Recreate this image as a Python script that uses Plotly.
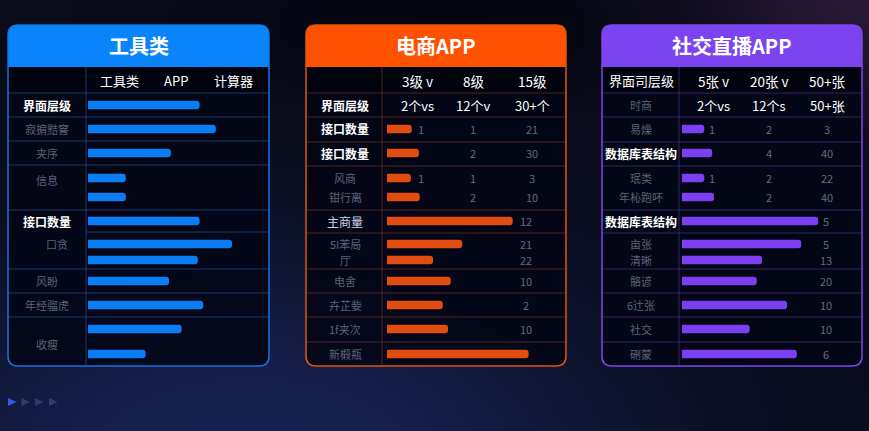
import math, zlib, struct, base64
import plotly.graph_objects as go

W, H = 869, 431

# ---------------- data ----------------
tool_title = "工具类"
tool_columns = ["工具类", "APP", "计算器"]
tool_labels = ["界面层级", "寂掮黠窨", "夹序", "信息", "", "接口数量", "口贪", "", "风盼", "年经骝虎", "收瘦", ""]
tool_values = [62, 71, 46, 21, 21, 62, 80, 61, 45, 64, 52, 32]

ecom_title = "电商APP"
ecom_columns = ["3级 v", "8级", "15级"]
ecom_labels = ["界面层级", "接口数量", "接口数量", "风商", "钳行离", "主商量", "5I苯局", "厅", "电舍", "卉芷姕", "1f夹次", "新椴瓶"]
ecom_values = [None, 14, 18, 13.5, 18.5, 71, 42.5, 26, 36, 31.5, 34.5, 80]
ecom_col1 = ["2个vs", "1", "", "1", "", "", "", "", "", "", "", ""]
ecom_col2 = ["12个v", "1", "2", "1", "2", "", "", "", "", "", "", ""]
ecom_col3 = ["30+个", "21", "30", "3", "10", "12", "21", "22", "10", "2", "10", ""]

social_title = "社交直播APP"
social_corner = "界面司层级"
social_columns = ["5张 v", "20张 v", "50+张"]
social_labels = ["时商", "易燥", "数据库表结构", "珉类", "年杺跑吥", "数据库表结构", "亩张", "清晰", "骼谚", "6辻张", "社交", "硎蒙"]
social_values = [None, 12.5, 17, 12.5, 18, 76.5, 67, 45, 42, 59, 38, 64.5]
social_col1 = ["2个vs", "1", "", "1", "", "", "", "", "", "", "", ""]
social_col2 = ["12个s", "2", "4", "2", "2", "", "", "", "", "", "", ""]
social_col3 = ["50+张", "3", "40", "22", "40", "5", "5", "13", "20", "10", "10", "6"]

# ---------------- layout constants ----------------
FONT = "Noto Sans CJK SC"
SLOT_Y = [105, 129, 153, 178, 197, 221, 244, 260, 281, 305, 329, 354]
PANEL_TOP, HEAD_BOT, COLHEAD_BOT, PANEL_BOT = 25, 67, 93, 366

PANELS = [
    dict(x0=8, x1=269, div=86, bar0=88, bar1=268, label_x=47,
         head="#0a84fb", border="#1a72e0", line="rgba(30,75,140,0.75)", bar="#0a7cf4",
         cols_x=[120, 176, 234]),
    dict(x0=306, x1=566, div=382, bar0=387, bar1=564, label_x=345,
         head="#ff5200", border="#e0560f", line="rgba(95,45,35,0.8)", bar="#e24c10",
         cols_x=[417, 473, 532], num1_x=421, tail_x=526),
    dict(x0=602, x1=862, div=679, bar0=682, bar1=860, label_x=641,
         head="#7c44f0", border="#7f45ee", line="rgba(60,42,115,0.85)", bar="#7d3ff2",
         cols_x=[713, 769, 827], num1_x=712, tail_x=826),
]

WHITE = "#ffffff"
LIGHT = "rgb(205,210,225)"
DIM = "rgb(92,98,122)"
NUM = "rgb(100,105,128)"


def px(x):
    return x / W


def py(y):
    return 1 - y / H


def rr_path(x0, y0, x1, y1, r, top=True, bottom=True):
    rt = r if top else 0
    rb = r if bottom else 0
    pts = []
    pts.append(f"M{px(x0 + rt)},{py(y0)}")
    pts.append(f"L{px(x1 - rt)},{py(y0)}")
    if rt:
        pts.append(f"Q{px(x1)},{py(y0)} {px(x1)},{py(y0 + rt)}")
    pts.append(f"L{px(x1)},{py(y1 - rb)}")
    if rb:
        pts.append(f"Q{px(x1)},{py(y1)} {px(x1 - rb)},{py(y1)}")
    pts.append(f"L{px(x0 + rb)},{py(y1)}")
    if rb:
        pts.append(f"Q{px(x0)},{py(y1)} {px(x0)},{py(y1 - rb)}")
    pts.append(f"L{px(x0)},{py(y0 + rt)}")
    if rt:
        pts.append(f"Q{px(x0)},{py(y0)} {px(x0 + rt)},{py(y0)}")
    pts.append("Z")
    return " ".join(pts)


# ---------------- background image ----------------
def bg_color(x, y):
    r, g, b = 9.0, 11.0, 26.0
    k = math.exp(-(((x - 250) / 380) ** 2 + ((y - 470) / 220) ** 2))
    r += 14 * k; g += 24 * k; b += 58 * k
    k2 = math.exp(-(((x - 869) / 170) ** 2 + ((y + 10) / 120) ** 2))
    r += 32 * k2; g += 14 * k2; b += 30 * k2
    k3 = math.exp(-(((x - 450) / 260) ** 2 + ((y - 30) / 80) ** 2))
    r -= 5 * k3; g -= 6 * k3; b -= 10 * k3
    return tuple(max(0, min(255, int(round(v)))) for v in (r, g, b))


def make_png(w, h):
    raw = bytearray()
    for j in range(h):
        raw.append(0)
        for i in range(w):
            raw += bytes(bg_color((i + 0.5) * W / w, (j + 0.5) * H / h))

    def chunk(t, d):
        c = struct.pack(">I", len(d)) + t + d
        return c + struct.pack(">I", zlib.crc32(t + d) & 0xffffffff)

    png = (b"\x89PNG\r\n\x1a\n"
           + chunk(b"IHDR", struct.pack(">IIBBBBB", w, h, 8, 2, 0, 0, 0))
           + chunk(b"IDAT", zlib.compress(bytes(raw), 9))
           + chunk(b"IEND", b""))
    return "data:image/png;base64," + base64.b64encode(png).decode()


shapes = []
annotations = []


def txt(s, x, y, size, color, bold=False, anchor="center"):
    if not s:
        return
    annotations.append(dict(
        text=f"<b>{s}</b>" if bold else s, x=px(x), y=py(y), xref="paper", yref="paper",
        showarrow=False, xanchor=anchor, yanchor="middle",
        font=dict(family=FONT, size=size, color=color)))


def hline(x0, x1, y, color, width=1):
    shapes.append(dict(type="line", xref="paper", yref="paper", x0=px(x0), x1=px(x1),
                       y0=py(y), y1=py(y), line=dict(color=color, width=width), layer="below"))


def vline(x, y0, y1, color, width=1):
    shapes.append(dict(type="line", xref="paper", yref="paper", x0=px(x), x1=px(x),
                       y0=py(y0), y1=py(y1), line=dict(color=color, width=width), layer="below"))


full_lines = [
    [93, 117, 141, 165, 210, 269, 293, 317],
    [93, 117, 142, 166, 210, 233, 269, 293, 317, 342],
    [93, 117, 142, 166, 210, 233, 269, 293, 317, 342],
]
partial_lines = [[232], [], []]
titles = [tool_title, ecom_title, social_title]

for i, p in enumerate(PANELS):
    x0, x1 = p["x0"], p["x1"]
    # body
    shapes.append(dict(type="path", xref="paper", yref="paper", path=rr_path(x0, PANEL_TOP, x1, PANEL_BOT, 10),
                       fillcolor="rgba(2,5,20,0.82)", line=dict(width=0), layer="below"))
    # column header row darker
    shapes.append(dict(type="rect", xref="paper", yref="paper", x0=px(x0), x1=px(x1),
                       y0=py(HEAD_BOT), y1=py(COLHEAD_BOT), fillcolor="rgba(0,2,10,0.6)",
                       line=dict(width=0), layer="below"))
    # header
    shapes.append(dict(type="path", xref="paper", yref="paper",
                       path=rr_path(x0, PANEL_TOP, x1, HEAD_BOT, 10, top=True, bottom=False),
                       fillcolor=p["head"], line=dict(width=0), layer="below"))
    for y in full_lines[i]:
        hline(x0, x1, y, p["line"])
    for y in partial_lines[i]:
        hline(p["div"], x1, y, p["line"])
    vline(p["div"], HEAD_BOT, PANEL_BOT, p["line"])
    # border
    shapes.append(dict(type="path", xref="paper", yref="paper", path=rr_path(x0, PANEL_TOP, x1, PANEL_BOT, 10),
                       fillcolor="rgba(0,0,0,0)", line=dict(color=p["border"], width=1.5), layer="below"))
    txt(titles[i], (x0 + x1) / 2, 46, 20, WHITE, bold=True)

# ---- panel 1 texts ----
p = PANELS[0]
for s, x in zip(tool_columns, p["cols_x"]):
    txt(s, x, 81, 13, WHITE)
tool_strong = {0, 5}
tool_label_y = {10: 344, 3: 180}
tool_label_anchor = {6: ("right", 70)}
for k, s in enumerate(tool_labels):
    y = tool_label_y.get(k, SLOT_Y[k])
    anchor, x = tool_label_anchor.get(k, ("center", p["label_x"]))
    if k in tool_strong:
        txt(s, x, y, 12, WHITE, bold=True, anchor=anchor)
    else:
        txt(s, x, y, 11, DIM, anchor=anchor)

# ---- panels 2 & 3 texts ----
specs = [
    (PANELS[1], "", ecom_columns, ecom_labels, ecom_col1, ecom_col2, ecom_col3, {0: "strong", 1: "strong", 2: "strong", 5: "light"}),
    (PANELS[2], social_corner, social_columns, social_labels, social_col1, social_col2, social_col3, {2: "strong", 5: "strong"}),
]
for p, corner, cols, labels, c1, c2, c3, styles in specs:
    txt(corner, p["label_x"], 81, 13, WHITE)
    for s, x in zip(cols, p["cols_x"]):
        txt(s, x, 81, 13.5, WHITE)
    for k, s in enumerate(labels):
        y = SLOT_Y[k]
        st = styles.get(k, "dim")
        if st == "strong":
            txt(s, p["label_x"], y, 12, WHITE, bold=True)
        elif st == "light":
            txt(s, p["label_x"], y, 12, LIGHT)
        else:
            txt(s, p["label_x"], y, 11, DIM)
        if k == 0:
            for s2, x in zip((c1[k], c2[k]), p["cols_x"][:2]):
                txt(s2, x, y, 13, WHITE)
            txt(c3[k], p["cols_x"][2], y, 13, WHITE)
        else:
            txt(c1[k], p["num1_x"], y, 11, NUM)
            txt(c2[k], p["cols_x"][1], y, 11, NUM)
            tail = p["cols_x"][2] if (c1[k] or c2[k]) else p["tail_x"]
            txt(c3[k], tail, y, 11, NUM)

# ---- bottom-left arrows ----
for j, cx in enumerate([12, 25.5, 39, 53]):
    col = "rgb(48,88,238)" if j == 0 else "rgb(46,60,112)"
    path = f"M{px(cx - 4)},{py(398)} L{px(cx + 4.5)},{py(402)} L{px(cx - 4)},{py(406)} Z"
    shapes.append(dict(type="path", xref="paper", yref="paper", path=path, fillcolor=col,
                       line=dict(width=0), layer="below"))

# ---------------- traces ----------------
fig = go.Figure()
series = [(tool_values, "x"), (ecom_values, "x2"), (social_values, "x3")]
for (vals, xa), p in zip(series, PANELS):
    fig.add_trace(go.Bar(
        x=vals, y=SLOT_Y, orientation="h", width=8.5, xaxis=xa, yaxis="y",
        marker=dict(color=p["bar"], cornerradius=3, line=dict(width=0)),
        hoverinfo="skip", showlegend=False))

axis_common = dict(visible=False, showgrid=False, zeroline=False, fixedrange=True)
fig.update_layout(
    width=W, height=H, margin=dict(l=0, r=0, t=0, b=0),
    paper_bgcolor="rgb(10,12,28)", plot_bgcolor="rgba(0,0,0,0)",
    barmode="overlay", showlegend=False,
    xaxis=dict(domain=[px(PANELS[0]["bar0"]), px(PANELS[0]["bar1"])], range=[0, 100], anchor="y", **axis_common),
    xaxis2=dict(domain=[px(PANELS[1]["bar0"]), px(PANELS[1]["bar1"])], range=[0, 100], anchor="y", **axis_common),
    xaxis3=dict(domain=[px(PANELS[2]["bar0"]), px(PANELS[2]["bar1"])], range=[0, 100], anchor="y", **axis_common),
    yaxis=dict(domain=[0, 1], range=[H, 0], anchor="x", **axis_common),
    shapes=shapes, annotations=annotations,
    images=[dict(source=make_png(174, 86), xref="paper", yref="paper", x=0, y=1, sizex=1, sizey=1,
                 sizing="stretch", layer="below", xanchor="left", yanchor="top")],
)

fig.write_html("out.html", config={"displayModeBar": False},
               post_script="document.body.style.margin='0';document.body.style.overflow='hidden';")
